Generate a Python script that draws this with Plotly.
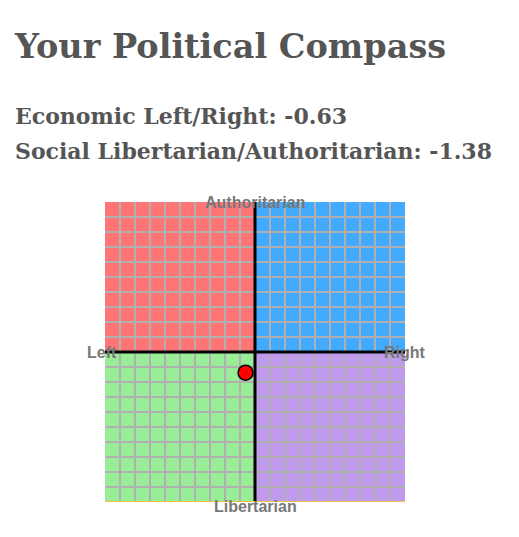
import plotly.graph_objects as go

economic = [-0.63]
social = [-1.38]
quadrants = [
    ("left_auth", -10, 0, 0, 10, "#ff7575"),
    ("right_auth", 0, 10, 0, 10, "#42aaff"),
    ("left_lib", -10, 0, -10, 0, "#9aed97"),
    ("right_lib", 0, 10, -10, 0, "#c09aec"),
]
title = "Your Political Compass"
line1 = "Economic Left/Right: -0.63"
line2 = "Social Libertarian/Authoritarian: -1.38"

OFF = 8  # page body margin
W, H = 519, 537
L, T = 105 - OFF, 202 - OFF
R = W - L - 300
B = H - T - 300

def py(pix):
    return (T + 300 - (pix - OFF)) / 300

def px(pix):
    return (pix - OFF - L) / 300

fig = go.Figure()
shapes = []
for _, x0, x1, y0, y1, c in quadrants:
    shapes.append(dict(type="rect", x0=x0, x1=x1, y0=y0, y1=y1, fillcolor=c,
                       line=dict(width=0), layer="below"))
shapes.append(dict(type="line", x0=0, x1=0, y0=-10, y1=10, line=dict(color="black", width=3)))
shapes.append(dict(type="line", x0=-10, x1=10, y0=0, y1=0, line=dict(color="black", width=3)))
shapes.append(dict(type="line", x0=-10, x1=10, y0=-10, y1=-10, line=dict(color="#f0c040", width=2)))

fig.add_trace(go.Scatter(x=economic, y=social, mode="markers",
                         marker=dict(size=15, color="red", line=dict(color="black", width=1.5)),
                         showlegend=False, hoverinfo="skip"))

grid = dict(range=[-10, 10], dtick=1, tick0=0, showgrid=True, gridcolor="#b0b0b0",
            gridwidth=1.5, zeroline=False, showticklabels=False, ticks="",
            showline=False, fixedrange=True)
fig.update_xaxes(**grid)
fig.update_yaxes(**grid)

lab = dict(family="Liberation Sans, Arial, sans-serif", size=16, color="#777")
head = dict(family="DejaVu Serif, Georgia, serif", color="#555")
ann = [
    dict(text="<b>Authoritarian</b>", x=0.5, y=py(192), xref="paper", yref="paper", showarrow=False, font=lab),
    dict(text="<b>Libertarian</b>", x=0.5, y=py(517), xref="paper", yref="paper", showarrow=False, font=lab),
    dict(text="<b>Left</b>", x=px(85), y=0.5, xref="paper", yref="paper", showarrow=False, font=lab),
    dict(text="<b>Right</b>", x=px(428), y=0.5, xref="paper", yref="paper", showarrow=False, font=lab),
    dict(text="<b>" + title + "</b>", x=px(12), y=py(25), xref="paper", yref="paper", xanchor="left",
         showarrow=False, font=dict(size=33.5, **head)),
    dict(text="<b>" + line1 + "</b>", x=px(13), y=py(101), xref="paper", yref="paper", xanchor="left",
         showarrow=False, font=dict(size=22, **head)),
    dict(text="<b>" + line2 + "</b>", x=px(13), y=py(136), xref="paper", yref="paper", xanchor="left",
         showarrow=False, font=dict(size=22, **head)),
]

fig.update_layout(width=W, height=H, autosize=False, margin=dict(l=L, r=R, t=T, b=B),
                  plot_bgcolor="white", paper_bgcolor="white", shapes=shapes, annotations=ann)
fig.write_html("out.html")
